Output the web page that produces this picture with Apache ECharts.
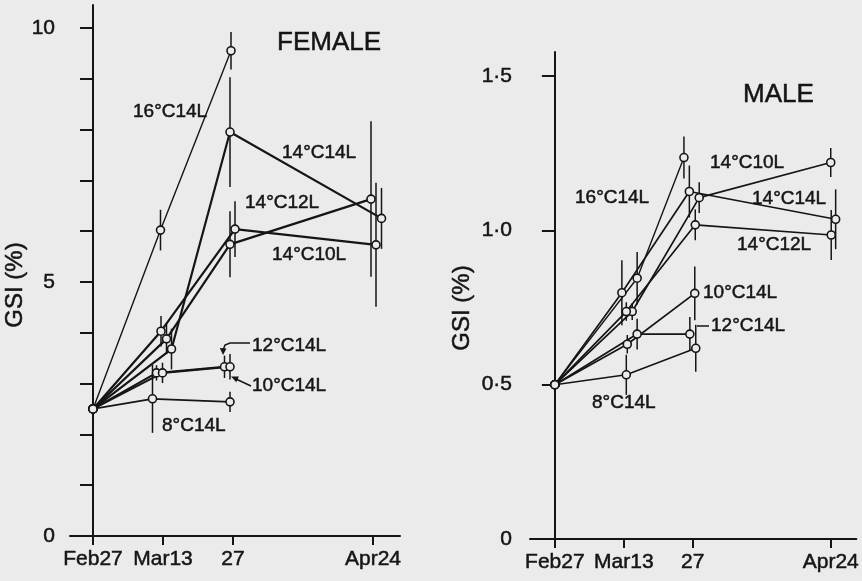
<!DOCTYPE html>
<html><head><meta charset="utf-8">
<script src="https://cdn.jsdelivr.net/npm/echarts@6/dist/echarts.min.js"></script>
<style>html,body{margin:0;padding:0;background:#ebebec}#c{width:862px;height:581px}</style>
</head><body><div id="c"></div>
<script>
// x = days after Feb 27
const dateTicks = [0, 14, 28, 56];
const dateLabels = ['Feb27', 'Mar13', '27', 'Apr24'];
const femaleYTicks = [0,1,2,3,4,5,6,7,8,9,10];
const femaleYLabels = [0, 5, 10];
const maleYTicks = [0, 0.5, 1, 1.5];
const maleYLabels = ['0', '0·5', '1·0', '1·5'];

// each point: [day, GSI %, half error bar]
const female_16C14L = [[0,2.5,0.2],[13.5,6.02,0.4],[27.6,9.55,0.37]];
const female_14C14L = [[0,2.5,0.2],[15.7,3.68,0.4],[27.4,7.95,1.08],[57.7,6.25,0.6]];
const female_14C12L = [[0,2.5,0.2],[14.7,3.88,0.3],[27.4,5.74,0.65],[55.6,6.63,1.53]];
const female_14C10L = [[0,2.5,0.2],[13.6,4.03,0.3],[28.4,6.04,0.55],[56.6,5.73,1.22]];
const female_12C14L = [[0,2.5,0.2],[12.7,3.21,0.15],[26.3,3.33,0.22]];
const female_10C14L = [[0,2.5,0.2],[13.9,3.21,0.2],[27.4,3.33,0.25]];
const female_8C14L  = [[0,2.5,0.2],[11.9,2.70,0.67],[27.4,2.64,0.2]];

const male_16C14L = [[0,0.5,0.052],[16.7,0.845,0.085],[26.2,1.236,0.068]];
const male_14C14L = [[0,0.5,0.052],[13.6,0.798,0.105],[27.3,1.126,0.084],[57.0,1.036,0.097]];
const male_14C10L = [[0,0.5,0.052],[15.7,0.737,0.027],[29.3,1.106,0.05],[56.0,1.22,0.047]];
const male_14C12L = [[0,0.5,0.052],[14.5,0.737,0.03],[28.5,1.018,0.05],[56.1,0.985,0.081]];
const male_10C14L = [[0,0.5,0.052],[14.7,0.631,0.03],[28.4,0.796,0.087]];
const male_12C14L = [[0,0.5,0.052],[16.7,0.664,0.05],[27.4,0.664,0.055]];
const male_8C14L  = [[0,0.5,0.052],[14.5,0.532,0.065],[28.6,0.618,0.076]];

const INK = '#151515';
const BG = '#ebebec';
const FONT = '"Liberation Sans", Arial, sans-serif';

const femaleSeries = [
  ['16°C14L', female_16C14L, 1.4],
  ['14°C14L', female_14C14L, 2.2],
  ['14°C12L', female_14C12L, 2.2],
  ['14°C10L', female_14C10L, 2.2],
  ['12°C14L', female_12C14L, 2],
  ['10°C14L', female_10C14L, 2],
  ['8°C14L', female_8C14L, 1.8]
];
const maleSeries = [
  ['16°C14L', male_16C14L, 1.4],
  ['14°C14L', male_14C14L, 1.7],
  ['14°C10L', male_14C10L, 1.7],
  ['14°C12L', male_14C12L, 1.7],
  ['10°C14L', male_10C14L, 1.7],
  ['12°C14L', male_12C14L, 1.7],
  ['8°C14L', male_8C14L, 1.5]
];

const series = [];
function errRender(params, api) {
  const x = api.value(0), y = api.value(1), e = api.value(2);
  const a = api.coord([x, y + e]), b = api.coord([x, y - e]);
  return {type: 'line', shape: {x1: a[0], y1: a[1], x2: b[0], y2: b[1]},
          style: {stroke: INK, lineWidth: 1.5}};
}
function addPanel(list, idx) {
  list.forEach(([name, data, w]) => {
    series.push({
      type: 'custom', name: name + ' err', xAxisIndex: idx, yAxisIndex: idx,
      data: data, encode: {x: 0, y: 1}, renderItem: errRender, z: 1, silent: true
    });
  });
  list.forEach(([name, data, w]) => {
    series.push({
      type: 'line', name: name, xAxisIndex: idx, yAxisIndex: idx,
      data: data.map(d => [d[0], d[1]]),
      symbol: 'circle', symbolSize: 8, z: 3,
      lineStyle: {color: INK, width: w},
      itemStyle: {color: BG, borderColor: INK, borderWidth: 1.6},
      animation: false, silent: true
    });
  });
}
addPanel(femaleSeries, 0);
addPanel(maleSeries, 1);

const labelCommon = {color: INK, fontSize: 21, fontFamily: FONT, textBorderColor: INK, textBorderWidth: 0.5};

function xAxis(idx, min, max) {
  return {
    type: 'value', gridIndex: idx, min: min, max: max,
    axisLine: {lineStyle: {color: INK, width: 2}},
    axisTick: {customValues: dateTicks, length: 9, lineStyle: {color: INK, width: 2}},
    axisLabel: Object.assign({customValues: dateTicks, formatter: v => dateLabels[dateTicks.indexOf(v)], margin: 13}, labelCommon),
    splitLine: {show: false}
  };
}
function yAxis(idx, max, ticks, labelVals, fmt, margin) {
  return {
    type: 'value', gridIndex: idx, min: 0, max: max,
    axisLine: {show: true, lineStyle: {color: INK, width: 2}},
    axisTick: {show: true, customValues: ticks, length: 13, lineStyle: {color: INK, width: 2}},
    axisLabel: Object.assign({customValues: labelVals, formatter: fmt, margin: margin}, labelCommon),
    splitLine: {show: false}
  };
}

function txt(x, y, s, size, extra) {
  return Object.assign({type: 'text', x: x, y: y, silent: true,
    style: {text: s, fill: INK, stroke: INK, lineWidth: 0.5, font: size + 'px ' + FONT,
            verticalAlign: 'middle', align: 'left'}}, extra || {});
}

const graphics = [
  // female panel
  txt(277, 43, 'FEMALE', 26),
  txt(133, 112, '16°C14L', 19),
  txt(282, 153, '14°C14L', 19),
  txt(245, 203, '14°C12L', 19),
  txt(272, 255, '14°C10L', 19),
  txt(252, 346, '12°C14L', 19),
  txt(252, 386, '10°C14L', 19),
  txt(162, 426, '8°C14L', 19),
  {type: 'polyline', silent: true, shape: {points: [[250,343],[230,343],[225,345],[223.5,349]]},
   style: {stroke: INK, lineWidth: 1.5, fill: null}},
  {type: 'polygon', silent: true, shape: {points: [[223,355],[219.8,348],[226.5,348.6]]}, style: {fill: INK}},
  {type: 'line', silent: true, shape: {x1: 251, y1: 386, x2: 236, y2: 379}, style: {stroke: INK, lineWidth: 1.5}},
  {type: 'polygon', silent: true, shape: {points: [[231,376.6],[238.9,376.6],[236.3,382.3]]}, style: {fill: INK}},
  // male panel
  txt(743, 95, 'MALE', 26),
  txt(710, 163, '14°C10L', 19),
  txt(575, 198, '16°C14L', 19),
  txt(752, 199, '14°C14L', 19),
  txt(737, 245, '14°C12L', 19),
  txt(703, 293, '10°C14L', 19),
  txt(711, 326, '12°C14L', 19),
  txt(592, 403, '8°C14L', 19),
  {type: 'line', silent: true, shape: {x1: 697, y1: 326, x2: 709, y2: 326}, style: {stroke: INK, lineWidth: 1.5}},
  // y axis names
  txt(15, 285, 'GSI (%)', 24, {rotation: Math.PI / 2}),
  txt(462, 308, 'GSI (%)', 24, {rotation: Math.PI / 2})
];
graphics.slice(-2).forEach(g => { g.style.align = 'center'; });

const chart = echarts.init(document.getElementById('c'));
chart.setOption({
  backgroundColor: BG,
  animation: false,
  grid: [
    {left: 70, top: 5, width: 330, height: 531},
    {left: 530, top: 52, width: 328, height: 487}
  ],
  xAxis: [xAxis(0, -4.6, 61.4), xAxis(1, -5.05, 61.2)],
  yAxis: [
    yAxis(0, 10.45, femaleYTicks, femaleYLabels, v => String(v), 15),
    yAxis(1, 1.578, maleYTicks, maleYTicks, v => maleYLabels[maleYTicks.indexOf(v)], 18)
  ],
  series: series,
  graphic: graphics
});
</script></body></html>
